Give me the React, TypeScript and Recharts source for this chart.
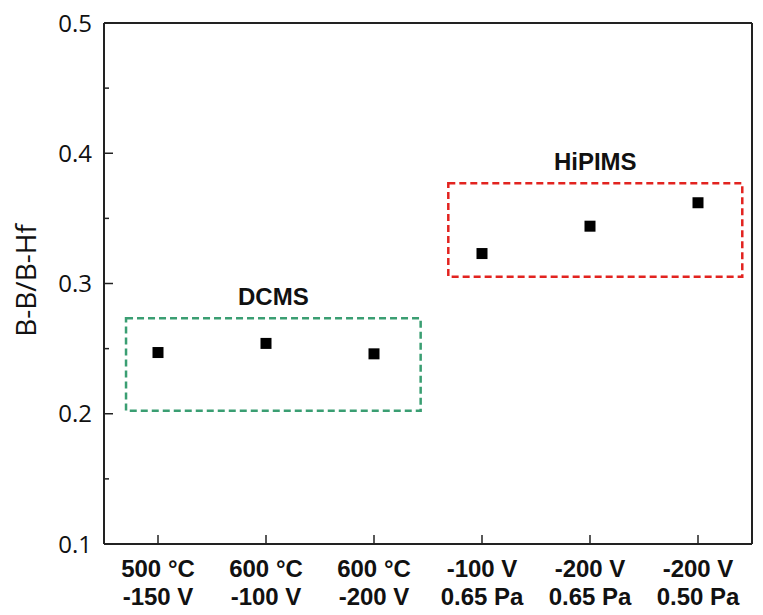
import {
  ScatterChart,
  Scatter,
  XAxis,
  YAxis,
  ReferenceArea,
  ReferenceLine,
} from "recharts";

const categories = [
  "500 °C\n-150 V",
  "600 °C\n-100 V",
  "600 °C\n-200 V",
  "-100 V\n0.65 Pa",
  "-200 V\n0.65 Pa",
  "-200 V\n0.50 Pa",
];
const ratios = [0.247, 0.254, 0.246, 0.323, 0.344, 0.362];
const yTicks = [0.1, 0.15, 0.2, 0.25, 0.3, 0.35, 0.4, 0.45, 0.5];
const majorTicks = [0.1, 0.2, 0.3, 0.4, 0.5];

// group boxes: [x1, x2, y1, y2] in data units
const dcmsBox = [-0.296, 2.432, 0.2023, 0.2733];
const hipimsBox = [2.688, 5.41, 0.3052, 0.3769];

const data = ratios.map((v, i) => ({ x: i, y: v }));

const AXIS = "#222";
const TICK_FONT = "'Open Sans', sans-serif";
const BOLD_FONT = "'Liberation Sans', Arial, sans-serif";

function YTick({ x, y, payload }: any) {
  const v = payload.value;
  const major = majorTicks.some((m) => Math.abs(m - v) < 1e-6);
  return (
    <g>
      <line x1={x} x2={x + (major ? 9 : 5)} y1={y} y2={y} stroke={AXIS} strokeWidth={1.5} />
      {major && (
        <text
          x={x - 12}
          y={y}
          dy="0.36em"
          textAnchor="end"
          fontSize={24}
          fontFamily={TICK_FONT}
          fill="#111"
        >
          {v.toFixed(1)}
        </text>
      )}
    </g>
  );
}

function XTick({ x, y, payload }: any) {
  const lines = (categories[payload.value] || "").split("\n");
  return (
    <g>
      <line x1={x} x2={x} y1={y} y2={y - 9} stroke={AXIS} strokeWidth={1.5} />
      <text
        x={x}
        y={y}
        textAnchor="middle"
        fontSize={24}
        fontWeight="bold"
        fontFamily={BOLD_FONT}
        fill="#111"
      >
        <tspan x={x} dy={33}>{lines[0]}</tspan>
        <tspan x={x} dy={28}>{lines[1]}</tspan>
      </text>
    </g>
  );
}

function SquareDot({ cx, cy }: any) {
  return <rect x={cx - 5.5} y={cy - 5.5} width={11} height={11} fill="#000" />;
}

function YLabel({ viewBox }: any) {
  const cx = viewBox.x - 18;
  const cy = viewBox.y + viewBox.height / 2 - 3;
  return (
    <text
      x={cx}
      y={cy}
      transform={`rotate(-90 ${cx} ${cy})`}
      textAnchor="middle"
      dy="0.36em"
      fontSize={28}
      fontFamily={TICK_FONT}
      fill="#111"
    >
      B-B/B-Hf
    </text>
  );
}

const groupLabel = (value: string) => ({
  value,
  position: "top" as const,
  offset: 13,
  fontSize: 24,
  fontWeight: "bold",
  fontFamily: BOLD_FONT,
  fill: "#111",
});

export default function App() {
  return (
    <div style={{ position: "absolute", left: 0, top: 0, background: "#fff" }}>
      <ScatterChart
        width={763}
        height={615}
        margin={{ top: 23, right: 11, left: 44, bottom: 11 }}
      >
        <XAxis
          type="number"
          dataKey="x"
          domain={[-0.5, 5.5]}
          ticks={[0, 1, 2, 3, 4, 5]}
          allowDataOverflow
          height={60}
          tickLine={false}
          tickSize={0}
          tickMargin={0}
          axisLine={{ stroke: AXIS, strokeWidth: 2 }}
          tick={<XTick />}
          interval={0}
        />
        <YAxis
          type="number"
          dataKey="y"
          domain={[0.1, 0.5]}
          ticks={yTicks}
          allowDataOverflow
          width={60}
          tickLine={false}
          tickSize={0}
          tickMargin={0}
          axisLine={{ stroke: AXIS, strokeWidth: 2 }}
          tick={<YTick />}
          interval={0}
          label={<YLabel />}
        />
        <ReferenceLine y={0.5} stroke={AXIS} strokeWidth={2} />
        <ReferenceLine x={5.5} stroke={AXIS} strokeWidth={2} />
        <ReferenceArea
          x1={dcmsBox[0]}
          x2={dcmsBox[1]}
          y1={dcmsBox[2]}
          y2={dcmsBox[3]}
          fill="none"
          fillOpacity={0}
          stroke="#3a9e72"
          strokeWidth={2.5}
          strokeDasharray="7 4"
          label={groupLabel("DCMS")}
        />
        <ReferenceArea
          x1={hipimsBox[0]}
          x2={hipimsBox[1]}
          y1={hipimsBox[2]}
          y2={hipimsBox[3]}
          fill="none"
          fillOpacity={0}
          stroke="#e2231f"
          strokeWidth={2.5}
          strokeDasharray="7 4"
          label={groupLabel("HiPIMS")}
        />
        <Scatter data={data} shape={<SquareDot />} isAnimationActive={false} />
      </ScatterChart>
    </div>
  );
}
